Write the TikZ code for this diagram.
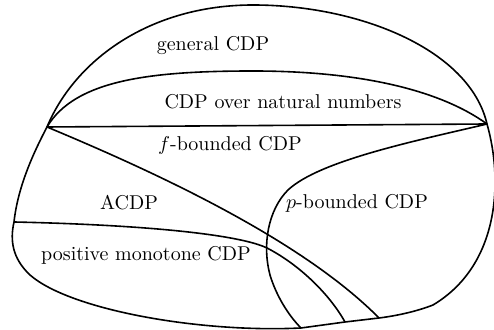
\documentclass[tikz,border=0pt]{standalone}
\begin{document}
\begin{tikzpicture}[x=0.5pt,y=-0.5pt,
  region/.style={line width=0.8pt,line join=round},
  lbl/.style={font=\fontsize{10}{12}\selectfont,inner sep=0pt}]
\useasboundingbox (0,0) rectangle (494,330);
\coordinate (L) at (47,127);
\coordinate (R) at (487,124);
\coordinate (A) at (14,222);
\coordinate (X) at (267,248);
\coordinate (B1) at (301,328);
\coordinate (B2) at (345,322);
\coordinate (B3) at (379,318);
% outer boundary
\draw[region] (L) .. controls (75,60) and (150,5) .. (253,5)
  .. controls (360,5) and (470,50) .. (R)
  .. controls (503,180) and (500,265) .. (433,305)
  .. controls (415,312) and (395,316) .. (B3)
  -- (B2) -- (B1)
  .. controls (200,333) and (70,310) .. (30,275)
  .. controls (12,258) and (10,240) .. (A)
  .. controls (18,185) and (35,150) .. (L);
% natural numbers arc
\draw[region] (L) .. controls (75,80) and (150,71) .. (253,71)
  .. controls (360,71) and (440,90) .. (R);
% straight chord
\draw[region] (L) -- (R);
% f-bounded lower boundary
\draw[region] (L) .. controls (150,170) and (300,238) .. (B3);
% p-bounded boundary
\draw[region] (R) .. controls (420,140) and (320,160) .. (288,190)
  .. controls (268,210) and (262,245) .. (270,275)
  .. controls (276,295) and (288,315) .. (B1);
% ACDP / positive monotone boundary
\draw[region] (A) .. controls (150,225) and (240,235) .. (X)
  .. controls (300,265) and (330,295) .. (B2);
% labels
\node[lbl] (gen) at (213,46) {general CDP};
\node[lbl] (nat) at (283,102) {CDP over natural numbers};
\node[lbl] (fb) at (230,145) {$f$-bounded CDP};
\node[lbl] (acdp) at (129,203) {ACDP};
\node[lbl] (pb) at (357,203) {$p$-bounded CDP};
\node[lbl] (pm) at (146,255) {positive monotone CDP};
\end{tikzpicture}
\end{document}
